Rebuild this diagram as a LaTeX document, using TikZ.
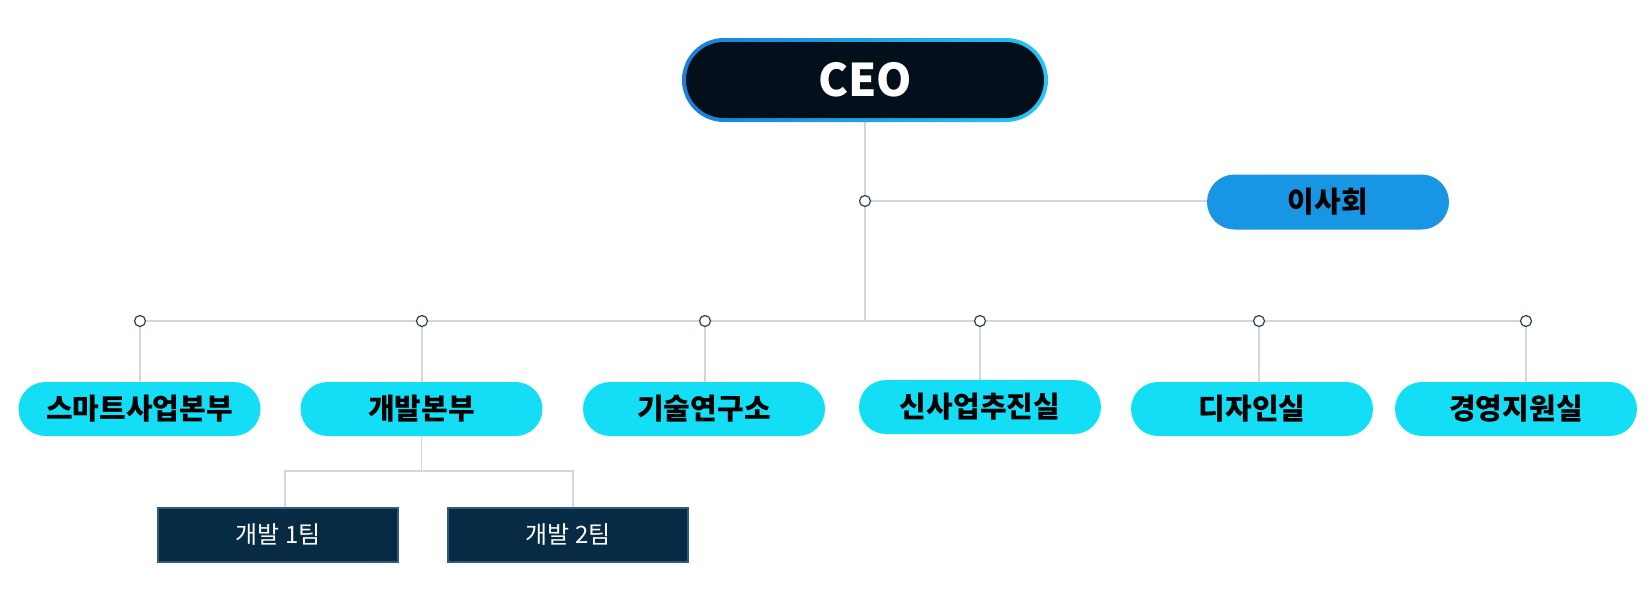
\documentclass[tikz,border=0pt]{standalone}
\usepackage{fontspec}
\setmainfont{Noto Sans CJK KR}
\usetikzlibrary{backgrounds}

\definecolor{ceofill}{HTML}{03101C}
\definecolor{ringleft}{HTML}{1A7FD9}
\definecolor{ringright}{HTML}{22C6F4}
\definecolor{boardblue}{HTML}{1896E4}
\definecolor{deptcyan}{HTML}{14DEF5}
\definecolor{teamnavy}{HTML}{072A45}
\definecolor{teamedge}{HTML}{2E5B82}
\definecolor{linegray}{HTML}{D3D6DB}
\definecolor{dotedge}{HTML}{2B3F5E}

\begin{document}
\begin{tikzpicture}[
    % one unit is one pixel of the reference
    x=0.5pt, y=-0.5pt,
    % nodes
    base/.style={rectangle, rounded corners=13.5pt, minimum width=121pt, minimum height=27pt,
                 inner sep=0pt, align=center, font=\fontsize{14.5}{16}\selectfont\bfseries},
    ceoring/.style={base, rounded corners=21pt, minimum width=183pt, minimum height=42pt,
                    left color=ringleft, right color=ringright},
    ceo/.style={base, rounded corners=19pt, minimum width=179pt, minimum height=38pt,
                fill=ceofill, text=white, font=\fontsize{22.5}{24}\selectfont\bfseries},
    board/.style={base, rounded corners=13.75pt, minimum height=27.5pt, fill=boardblue},
    dept/.style={base, fill=deptcyan},
    team/.style={rectangle, minimum width=120pt, minimum height=27pt, fill=teamnavy,
                 draw=teamedge, line width=0.6pt, text=white, font=\fontsize{12}{14}\selectfont},
    dot/.style={circle, minimum size=5.5pt, inner sep=0pt, fill=white, draw=dotedge, line width=0.6pt},
    % connectors
    link/.style={draw=linegray, line width=0.7pt},
  ]

  \useasboundingbox (0,0) rectangle (1650,600);

  \node (ceoring) [ceoring] at (865,80)    {};
  \node (ceo)     [ceo]     at (865,80)    {CEO};

  \node (d0)      [dot]     at (865,201)   {};
  \node (board)   [board]   at (1328,202)  {이사회};

  \coordinate (bus) at (865,321);

  % circles on the bus
  \node (c1) [dot] at (140,321)  {};
  \node (c2) [dot] at (422,321)  {};
  \node (c3) [dot] at (705,321)  {};
  \node (c4) [dot] at (980,321)  {};
  \node (c5) [dot] at (1259,321) {};
  \node (c6) [dot] at (1526,321) {};

  \node (smart)  [dept] at (139.5,409) {스마트사업본부};
  \node (dev)    [dept] at (421.5,409) {개발본부};
  \node (lab)    [dept] at (704,409)   {기술연구소};
  \node (newbiz) [dept] at (980,407)   {신사업추진실};
  \node (design) [dept] at (1252,409)  {디자인실};
  \node (mgmt)   [dept] at (1516,409)  {경영지원실};

  \coordinate (devjoint) at (421.5,471);

  \node (team1) [team] at (278,535) {개발 1팀};
  \node (team2) [team] at (568,535) {개발 2팀};

  \begin{scope}[on background layer]
    \draw[link] (ceoring) -- (bus);
    \draw[link] (d0) -- (d0 -| board.west);
    \draw[link] (c1) -- (c6);
    \foreach \c/\d in {c1/smart, c2/dev, c3/lab, c4/newbiz, c5/design, c6/mgmt}
      \draw[link] (\c) -- (\c |- \d.north);
    \draw[link] (dev) -- (devjoint);
    \draw[link] ([xshift=3.5pt]team1.north) |- (devjoint) -| ([xshift=2.5pt]team2.north);
  \end{scope}

\end{tikzpicture}
\end{document}
